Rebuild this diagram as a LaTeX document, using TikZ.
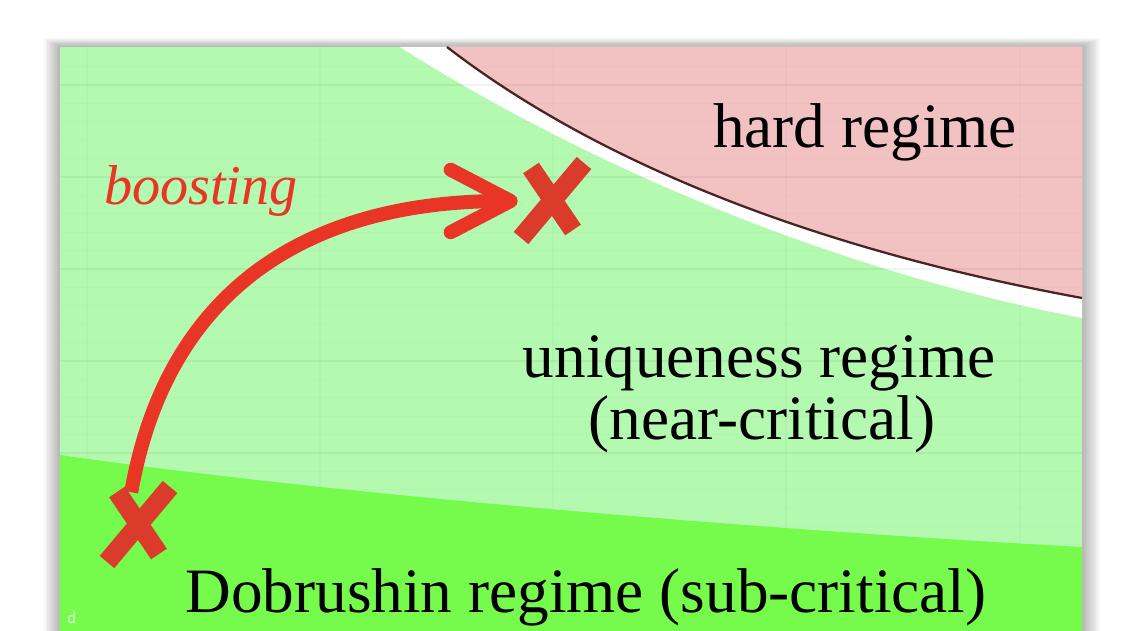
\documentclass[tikz,border=0pt]{standalone}
\usepackage{fontspec}
\setmainfont{Liberation Serif}
\usepackage{tikz}
\usetikzlibrary{arrows.meta}
\usetikzlibrary{positioning}
\definecolor{mintgreen}{RGB}{179,249,176}
\definecolor{limegreen}{RGB}{118,250,76}
\definecolor{hardpink}{RGB}{242,194,194}
\definecolor{boostred}{RGB}{232,53,38}
\definecolor{crossred}{RGB}{218,59,42}
\definecolor{borderbrown}{RGB}{72,36,36}
\tikzstyle{every node}+=[inner sep=0pt]
\tikzstyle{regime} = [font=\fontsize{36}{40}\selectfont, text=black, anchor=base]
\tikzstyle{crossmark} = [circle, minimum size=1.32cm]
\tikzstyle{xstroke} = [draw=crossred, line width=0.38cm]
\tikzstyle{line} = [draw=boostred, line width=0.28cm, -{Straight Barb[length=1.2cm, width=1.25cm, round]}]
\tikzstyle{gridline} = [draw=black, opacity=0.03, line width=0.6pt]

\begin{document}
\begin{tikzpicture}[x=0.02cm, y=-0.02cm]
          \useasboundingbox (0,0) rectangle (1140,631);
          \clip (0,0) rectangle (1140,631);
          % Shadow and sheet
          \foreach \i in {1,...,10}
            \fill[black, opacity=0.03] (60-1.6*\i,47-0.9*\i) rectangle (1082+1.8*\i,700);
          \fill[mintgreen] (60,47) rectangle (1082,700);
          \fill[white] (400,47) .. controls (530,130) and (780,260) .. (1082,318) -- (1082,47) -- cycle;
          \fill[hardpink] (447,47) .. controls (600,165) and (820,250) .. (1082,298) -- (1082,47) -- cycle;
          \begin{scope}
            \clip (60,47) rectangle (1082,700);
            \foreach \y in {66.6,85,...,650}
              \draw[gridline, opacity=0.015] (60,\y) -- (1082,\y);
            \foreach \y in {85,177,269,361,453}
              \draw[gridline] (60,\y) -- (1082,\y);
            \foreach \x in {87,320,553,786,1020}
              \draw[gridline, opacity=0.02] (\x,47) -- (\x,700);
          \end{scope}
          \draw[borderbrown, line width=1.3pt] (447,47) .. controls (600,165) and (820,250) .. (1082,298);
          \fill[limegreen] (60,455) .. controls (350,497) and (800,532) .. (1082,547) -- (1082,700) -- (60,700) -- cycle;
          % Place nodes
          \node [regime] (hard) at (865,148) {hard regime};
          \node [regime] (unique) at (759,378) {uniqueness regime};
          \node [regime] (nearcrit) at (762,440) {(near-critical)};
          \node [regime] (dobrushin) at (586,612) {Dobrushin regime (sub-critical)};
          \node [anchor=base, text=boostred, font=\fontsize{32}{36}\selectfont\itshape] (boost) at (201,205) {boosting};
          \node [text=white, opacity=0.8, font=\sffamily\fontsize{10}{10}\selectfont] (logo) at (72,617) {d};
          \node [crossmark] (highx) at (551,201) {};
          \node [crossmark] (lowx) at (137,525) {};
          % Draw edges
          \path [line] (lowx.100) to[out=80, in=180, looseness=1.1] (highx);
          \foreach \m in {highx, lowx} {
            \draw[xstroke] ([shift={(-20,-33)}]\m.center) -- ([shift={(22,29)}]\m.center);
            \draw[xstroke] ([shift={(33,-38)}]\m.center) -- ([shift={(-30,37)}]\m.center);
          }
        \end{tikzpicture}
\end{document}
